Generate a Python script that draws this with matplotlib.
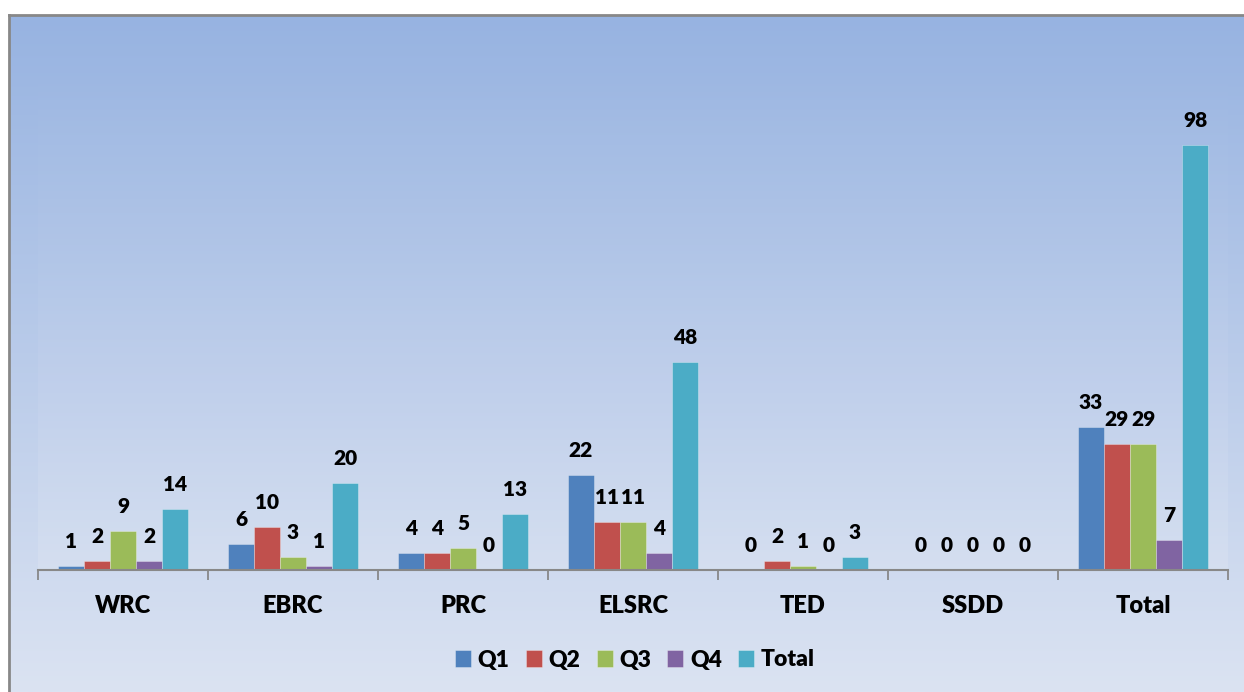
import numpy as np
import matplotlib
matplotlib.use("Agg")
import matplotlib.pyplot as plt
from matplotlib.colors import LinearSegmentedColormap

# data
categories = ["WRC", "EBRC", "PRC", "ELSRC", "TED", "SSDD", "Total"]
series_names = ["Q1", "Q2", "Q3", "Q4", "Total"]
q1 = [1, 6, 4, 22, 0, 0, 33]
q2 = [2, 10, 4, 11, 2, 0, 29]
q3 = [9, 3, 5, 11, 1, 0, 29]
q4 = [2, 1, 0, 4, 0, 0, 7]
total = [14, 20, 13, 48, 3, 0, 98]
series = [q1, q2, q3, q4, total]
colors = ["#4f81bd", "#c0504d", "#9bbb59", "#8064a2", "#4bacc6"]

plt.rcParams['font.family'] = ['Lato', 'DejaVu Sans']

W, H = 1244, 692
fig = plt.figure(figsize=(W / 100, H / 100), dpi=100)
fig.patch.set_facecolor("white")

# chart area background with vertical gradient
bg = fig.add_axes([9 / W, 0, 1 - 9 / W, 1 - 15 / H])
grad = LinearSegmentedColormap.from_list("bg", ["#97b3e1", "#dbe3f2"])
bg.imshow(np.linspace(0, 1, 256).reshape(-1, 1), aspect="auto", cmap=grad,
          extent=[0, 1, 0, 1], origin="upper")
bg.set_xlim(0, 1)
bg.set_ylim(0, 1)
bg.set_xticks([])
bg.set_yticks([])
for s in ["right", "bottom"]:
    bg.spines[s].set_visible(False)
for s in ["left", "top"]:
    bg.spines[s].set_color("#888888")
    bg.spines[s].set_linewidth(2)

# plot area
ax = fig.add_axes([38 / W, 1 - 570 / H, (1228 - 38) / W, (570 - 50) / H])
ax.patch.set_alpha(0)
grad2 = LinearSegmentedColormap.from_list("pa", ["#9bb6e2", "#dae2f2"])
ax.imshow(np.linspace(0, 1, 256).reshape(-1, 1), aspect="auto", cmap=grad2,
          extent=[-0.5, len(categories) - 0.5, 0, 120], origin="upper",
          zorder=0, alpha=0.6)

x = np.arange(len(categories))
bw = 0.153
for i, (name, vals, c) in enumerate(zip(series_names, series, colors)):
    pos = x + (i - 2) * bw
    ax.bar(pos, vals, bw, color=c, label=name, zorder=2,
           edgecolor=(1, 1, 1, 0.35), linewidth=0.6)
    for px, v in zip(pos, vals):
        ax.annotate(str(v), (px, v), xytext=(0, 13), textcoords="offset points",
                    ha="center", va="baseline", fontsize=15, fontweight="heavy",
                    color="black")

ax.set_xlim(-0.5, len(categories) - 0.5)
ax.set_ylim(0, 120)
ax.set_yticks([])
for s in ["left", "right", "top"]:
    ax.spines[s].set_visible(False)
ax.spines["bottom"].set_color("#888888")
ax.spines["bottom"].set_linewidth(1.5)
ax.spines["bottom"].set_zorder(3)

ax.set_xticks(np.arange(-0.5, len(categories)), minor=False)
ax.set_xticklabels([])
ax.tick_params(axis="x", which="major", length=7, width=1.3, color="#888888")
ax.set_xticks(x, minor=True)
ax.set_xticklabels(categories, minor=True, fontsize=17, fontweight="heavy")
ax.tick_params(axis="x", which="minor", length=0, pad=18)

leg = fig.legend(loc="center", bbox_to_anchor=(635 / W, 1 - 660 / H), ncol=5,
                 frameon=False, prop={"size": 16.5, "weight": "heavy"},
                 handlelength=0.7, handleheight=0.7, handletextpad=0.3,
                 columnspacing=0.7)

fig.savefig("out.png", dpi=100)
